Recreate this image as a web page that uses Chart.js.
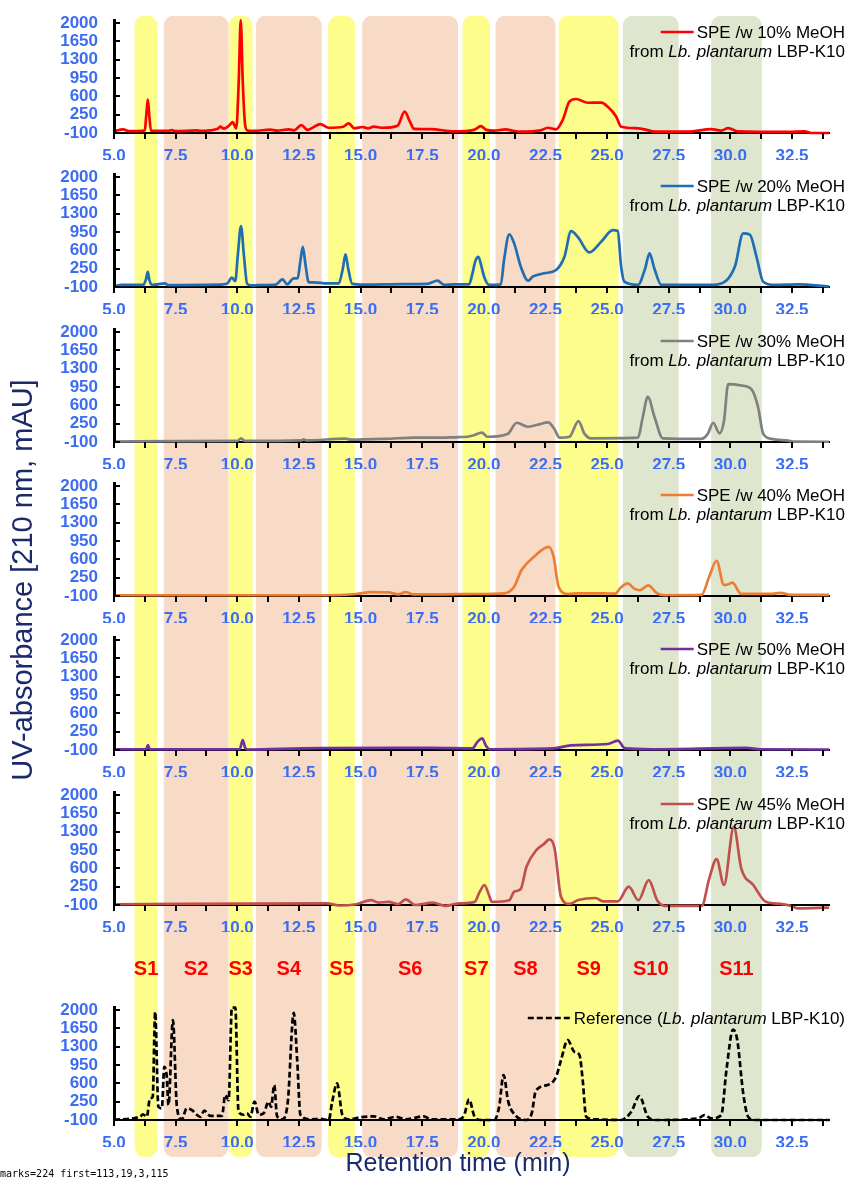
<!DOCTYPE html>
<html>
<head>
<meta charset="utf-8">
<script src="https://cdn.jsdelivr.net/npm/chart.js@4.4.0/dist/chart.umd.min.js"></script>
<style>
  body { margin: 0; background: #fff; }
  #page { position: relative; width: 848px; height: 1180px; overflow: hidden; }
  canvas { position: absolute; left: 0; }
  #bands { z-index: 0; }
  .panel { z-index: 1; }
  .mark { position: absolute; background: #000; z-index: 2; }
  #dbg { position: absolute; left: 0; top: 1168px; font: 10px monospace; z-index: 3; }
</style>
</head>
<body>
<div id="page">
  <canvas id="bands" width="848" height="1180" style="top:0;width:848px;height:1180px"></canvas>
  <div id="dbg"></div>
</div>
<script>
// fraction bands (minutes)
const bandNames  = ['S1', 'S2', 'S3', 'S4', 'S5', 'S6', 'S7', 'S8', 'S9', 'S10', 'S11'];
const bandStart  = [5.85, 7.03, 9.67, 10.77, 13.70, 15.08, 19.15, 20.49, 23.05, 25.65, 29.23];
const bandEnd    = [6.75, 9.63, 10.61, 13.41, 14.76, 18.94, 20.24, 22.89, 25.45, 27.89, 31.26];
const bandColors = ['#FDFD8C', '#F8DBC6', '#FDFD8C', '#F8DBC6', '#FDFD8C', '#F8DBC6', '#FDFD8C', '#F8DBC6', '#FDFD8C', '#DFE6CE', '#DFE6CE'];

const xTicks = [5, 6.25, 7.5, 8.75, 10, 11.25, 12.5, 13.75, 15, 16.25, 17.5, 18.75, 20, 21.25, 22.5, 23.75, 25, 26.25, 27.5, 28.75, 30, 31.25, 32.5, 33.75];
const yTicks = [-100, 250, 600, 950, 1300, 1650, 2000];

// SPE 10% MeOH
const t10 = [5.0, 5.37, 5.6, 6.15, 6.25, 6.32, 6.37, 6.42, 6.5, 7.2, 7.35, 7.5, 8.36, 8.5, 9.2, 9.31, 9.45, 9.75, 9.81, 9.96, 10.06, 10.14, 10.22, 10.32, 10.42, 10.7, 11.34, 11.6, 12.09, 12.3, 12.6, 12.85, 13.37, 13.7, 14.3, 14.52, 14.75, 15.07, 15.3, 15.54, 15.9, 16.5, 16.79, 17.0, 17.17, 17.85, 18.79, 19.6, 19.88, 20.1, 20.42, 20.89, 21.1, 21.5, 22.3, 22.59, 22.93, 23.2, 23.47, 23.74, 24.22, 24.76, 25.03, 25.37, 25.57, 26.25, 26.6, 26.92, 28.28, 29.23, 29.63, 29.91, 30.31, 32.34, 33.02, 33.29, 34.0];
const a10 = [-70, -30, -65, -60, -40, 300, 540, 300, -55, -60, -45, -65, -50, -60, -20, 20, -15, 80, 110, -10, 900, 2060, 900, 50, -55, -60, -35, -55, -30, -50, 50, -40, 70, 0, 20, 85, -10, 15, -10, 20, 0, 40, 307, 120, -20, -25, -70, -40, 30, -40, -55, -30, -50, -75, -50, 0, -30, 150, 500, 550, 478, 480, 400, 211, 20, -10, -40, -75, -75, -25, -55, -5, -70, -80, -70, -100, -100];

// SPE 20% MeOH
const t20 = [5.0, 5.3, 6.19, 6.3, 6.37, 6.43, 6.55, 7.07, 7.2, 9.31, 9.6, 9.78, 9.92, 10.02, 10.15, 10.27, 10.4, 10.6, 11.07, 11.54, 11.84, 12.02, 12.29, 12.45, 12.56, 12.66, 12.76, 12.9, 13.1, 13.65, 14.12, 14.28, 14.39, 14.5, 14.66, 15.13, 16.76, 17.71, 18.12, 18.39, 18.79, 19.4, 19.54, 19.66, 19.78, 19.9, 20.01, 20.21, 20.69, 20.82, 21.03, 21.23, 21.5, 21.8, 21.98, 22.45, 22.93, 23.27, 23.54, 23.81, 24.28, 24.76, 25.23, 25.43, 25.57, 25.7, 26.25, 26.54, 26.72, 26.92, 27.2, 29.09, 29.5, 30.18, 30.52, 30.79, 31.06, 31.33, 31.8, 32.75, 34.0];
const a20 = [-90, -60, -60, 50, 190, 40, -60, -29, -65, -56, -30, 78, 14, 500, 1064, 500, -40, -70, -62, -60, 47, -50, 66, 70, 400, 670, 350, -10, -10, -30, -30, 250, 524, 250, -40, -55, -45, -40, 20, -60, -50, -50, 162, 400, 478, 300, 100, -60, -50, 415, 906, 734, 288, 20, 97, 162, 225, 478, 969, 860, 562, 765, 988, 970, 288, 1, -60, 250, 543, 250, -60, -60, -50, 288, 925, 900, 478, 1, -60, -50, -90];

// SPE 30% MeOH
const t30 = [5.0, 7.5, 10.0, 10.16, 10.3, 12.6, 12.7, 12.8, 14.39, 14.6, 16.0, 17.2, 18.25, 18.8, 19.34, 19.6, 19.92, 20.15, 20.96, 21.34, 21.78, 22.18, 22.61, 22.86, 23.07, 23.47, 23.84, 24.08, 24.35, 26.25, 26.45, 26.65, 26.92, 27.26, 28.82, 29.09, 29.3, 29.56, 29.74, 29.91, 30.45, 30.85, 31.12, 31.33, 31.67, 32.34, 32.6, 34.0];
const a30 = [-90, -85, -80, -30, -80, -70, -50, -70, -35, -55, -40, -15, -18, -10, 1, 30, 78, 0, 53, 268, 192, 230, 276, 150, -18, 0, 301, 60, -30, -18, 383, 765, 383, -30, -40, 60, 268, 66, 300, 1007, 980, 912, 574, 60, -40, -75, -94, -95];

// SPE 40% MeOH
const t40 = [5.0, 13.63, 14.82, 15.43, 16.13, 16.53, 16.83, 17.13, 18.03, 19.63, 20.83, 21.23, 21.53, 22.03, 22.63, 22.83, 23.03, 23.43, 23.83, 24.83, 25.33, 25.53, 25.83, 26.1, 26.33, 26.67, 27.03, 27.33, 28.83, 29.14, 29.44, 29.74, 29.9, 30.08, 30.44, 31.64, 32.04, 32.44, 34.0];
const a40 = [-86, -86, -62, -24, -30, -70, -24, -70, -70, -62, -48, 78, 396, 650, 841, 650, 78, -62, -50, -50, -55, 50, 142, 40, 10, 104, -50, -86, -80, 269, 574, 110, 120, 154, -60, -60, -40, -80, -80];

// SPE 50% MeOH
const t50 = [5.0, 6.3, 6.38, 6.45, 10.1, 10.22, 10.32, 10.42, 12.63, 13.43, 16.83, 17.93, 19.53, 19.75, 19.93, 20.1, 20.23, 22.83, 23.53, 25.03, 25.43, 25.73, 26.83, 30.64, 31.24, 34.0];
const a50 = [-86, -86, -5, -86, -86, 91, -60, -90, -70, -65, -60, -60, -70, 60, 123, -30, -86, -70, -10, 15, 78, -70, -86, -60, -86, -90];

// SPE 45% MeOH
const t45 = [5.0, 13.63, 14.13, 14.82, 15.43, 15.73, 16.13, 16.53, 16.83, 17.23, 17.93, 18.43, 19.03, 19.63, 19.83, 20.03, 20.2, 20.33, 21.03, 21.23, 21.49, 21.73, 22.13, 22.43, 22.67, 22.87, 23.13, 23.47, 23.83, 24.53, 24.83, 25.43, 25.88, 26.27, 26.69, 27.03, 27.34, 28.84, 29.14, 29.44, 29.74, 30.14, 30.44, 30.93, 31.44, 32.04, 32.44, 32.74, 34.0];
const a45 = [-86, -68, -110, -86, -5, -55, -40, -86, 9, -100, -55, -115, -70, -40, 150, 282, 100, -40, -10, 154, 200, 631, 950, 1064, 1154, 980, 59, -80, -5, 34, -30, -30, 250, -10, 377, -10, -115, -115, 400, 778, 282, 1395, 600, 282, -40, -80, -115, -163, -150];

// Reference
const tRef = [5.0, 6.06, 6.17, 6.33, 6.46, 6.57, 6.67, 6.8, 6.94, 7.04, 7.14, 7.21, 7.39, 7.55, 7.75, 7.95, 8.16, 8.5, 8.66, 8.9, 9.38, 9.51, 9.65, 9.78, 9.92, 10.05, 10.26, 10.39, 10.53, 10.7, 10.87, 11.07, 11.27, 11.37, 11.5, 11.61, 11.82, 12.05, 12.29, 12.43, 12.56, 12.97, 13.37, 13.71, 13.85, 14.05, 14.26, 14.52, 15.0, 15.54, 15.95, 16.42, 16.83, 17.57, 17.85, 18.93, 19.2, 19.4, 19.61, 19.88, 20.42, 20.62, 20.8, 20.99, 21.3, 21.71, 21.94, 22.11, 22.59, 22.93, 23.13, 23.4, 23.67, 23.88, 24.01, 24.15, 24.48, 25.57, 25.98, 26.31, 26.65, 26.99, 28.69, 28.95, 29.23, 29.63, 29.84, 30.11, 30.28, 30.52, 30.72, 30.99, 34.0];
const aRef = [-95, -37, 10, -37, 314, 340, 1967, 154, 123, 918, 727, 186, 1809, 154, -87, 123, 90, -40, 78, -20, -20, 377, 280, 2050, 2050, 60, 0, 30, -40, 250, 0, 30, 250, 150, 568, -20, -87, 250, 1948, 1045, 0, -87, -80, -100, 250, 600, 0, -87, -48, -30, -87, -40, -87, -30, -87, -87, -10, 295, -20, -100, -100, 150, 759, 250, -20, -100, 20, 460, 570, 727, 1045, 1427, 1204, 1141, 664, -37, -87, -100, 59, 358, -37, -100, -70, -5, -70, -5, 855, 1631, 1427, 410, -37, -100, -100];

const panels = [
  { t: t10,  a: a10,  color: '#FF0000', label: 'SPE /w 10% MeOH', bottom: 133 },
  { t: t20,  a: a20,  color: '#1F6DB3', label: 'SPE /w 20% MeOH', bottom: 287 },
  { t: t30,  a: a30,  color: '#808080', label: 'SPE /w 30% MeOH', bottom: 442 },
  { t: t40,  a: a40,  color: '#ED7D31', label: 'SPE /w 40% MeOH', bottom: 596 },
  { t: t50,  a: a50,  color: '#7030A0', label: 'SPE /w 50% MeOH', bottom: 750 },
  { t: t45,  a: a45,  color: '#C0504D', label: 'SPE /w 45% MeOH', bottom: 905 },
  { t: tRef, a: aRef, color: '#000000', label: null, bottom: 1120, dash: [6, 3] }
];

const FONT      = 'Arial, "Liberation Sans", sans-serif';
const TICK_BLUE = '#3B6DF4';
const NAVY      = '#1B2A6B';
const H = 146, PAD_TOP = 5, X_H = 27;
Chart.defaults.font.family = FONT;

function drawParts(ctx, parts, right, baseline) {
  const fonts = parts.map(p => (p.it ? 'italic ' : '') + '17px ' + FONT);
  let w = 0;
  parts.forEach((p, i) => { ctx.font = fonts[i]; w += ctx.measureText(p.s).width; });
  let x = right - w;
  const start = x;
  ctx.textBaseline = 'alphabetic';
  ctx.textAlign = 'left';
  parts.forEach((p, i) => { ctx.font = fonts[i]; ctx.fillText(p.s, x, baseline); x += ctx.measureText(p.s).width; });
  return start;
}

const panelLegend = {
  id: 'panelLegend',
  afterDraw(chart, args, opts) {
    const ctx = chart.ctx, top = chart.chartArea.top, right = 845;
    ctx.save();
    ctx.fillStyle = '#000';
    let lineStart, lineEnd, ly;
    if (opts.label) {
      ctx.font = '17px ' + FONT;
      const w = ctx.measureText(opts.label).width;
      ctx.textAlign = 'right';
      ctx.textBaseline = 'alphabetic';
      ctx.fillText(opts.label, right, top + 19);
      lineEnd = right - w - 3; lineStart = lineEnd - 33; ly = top + 13;
      drawParts(ctx, [{ s: 'from ' }, { s: 'Lb. plantarum', it: true }, { s: ' LBP-K10' }], right, top + 38);
    } else {
      const s = drawParts(ctx, [{ s: 'Reference (' }, { s: 'Lb. plantarum', it: true }, { s: ' LBP-K10)' }], right, top + 18);
      lineEnd = s - 2; lineStart = lineEnd - 44; ly = top + 12;
    }
    ctx.strokeStyle = opts.color;
    ctx.lineWidth = 2.5;
    ctx.setLineDash(opts.dash || []);
    ctx.beginPath(); ctx.moveTo(lineStart, ly); ctx.lineTo(lineEnd, ly); ctx.stroke();
    ctx.restore();
  }
};

const page = document.getElementById('page');
const marks = [];

function addMark(left, top, w, h) {
  const d = document.createElement('div');
  d.className = 'mark';
  d.style.left = left + 'px'; d.style.top = top + 'px';
  d.style.width = w + 'px'; d.style.height = h + 'px';
  page.appendChild(d);
  marks.push(d);
}

panels.forEach(p => {
  const cv = document.createElement('canvas');
  const canvasTop = p.bottom - (H - X_H);
  cv.className = 'panel';
  cv.width = 848; cv.height = H;
  cv.style.width = '848px'; cv.style.height = H + 'px';
  cv.style.top = canvasTop + 'px';
  page.appendChild(cv);

  const chart = new Chart(cv, {
    type: 'line',
    data: {
      datasets: [{
        data: p.t.map((t, i) => ({ x: t, y: p.a[i] })),
        borderColor: p.color, borderWidth: 2.7, borderDash: p.dash || [],
        pointRadius: 0, cubicInterpolationMode: 'monotone', fill: false, clip: 8
      }]
    },
    options: {
      responsive: false, animation: false, devicePixelRatio: 1,
      layout: { padding: { top: PAD_TOP, right: 19, left: 0, bottom: 0 } },
      plugins: {
        legend: { display: false }, tooltip: { enabled: false },
        panelLegend: { label: p.label, color: p.color, dash: p.dash }
      },
      scales: {
        x: {
          type: 'linear', min: 5, max: 34,
          afterBuildTicks: s => { s.ticks = xTicks.map(v => ({ value: v })); },
          afterFit: s => { s.height = X_H; s.paddingLeft = 0; s.paddingRight = 0; },
          ticks: {
            autoSkip: false, maxRotation: 0, padding: 13, color: TICK_BLUE,
            font: { size: 17, weight: 'bold' },
            callback: v => (v % 2.5 === 0 ? v.toFixed(1) : '')
          },
          grid: { drawOnChartArea: false, drawTicks: false },
          border: { color: '#000', width: 2 }
        },
        y: {
          min: -100, max: 2080,
          afterBuildTicks: s => { s.ticks = yTicks.map(v => ({ value: v })); },
          afterFit: s => { s.width = 114; s.paddingTop = 0; s.paddingBottom = 0; },
          ticks: {
            autoSkip: false, padding: 16, color: TICK_BLUE,
            font: { size: 17, weight: 'bold' },
            callback: v => String(v)
          },
          grid: { drawOnChartArea: false, drawTicks: false },
          border: { display: false }
        }
      }
    },
    plugins: [panelLegend]
  });

  const area = chart.chartArea, xs = chart.scales.x, ys = chart.scales.y;
  const left = Math.round(area.left), bottom = Math.round(area.bottom);
  addMark(left - 1, canvasTop + Math.round(area.top), 3, bottom - Math.round(area.top) + 1);
  yTicks.forEach(v => addMark(left, canvasTop + Math.round(ys.getPixelForValue(v)) - 1, 6, 2));
  xTicks.forEach(v => addMark(Math.round(xs.getPixelForValue(v)) - 1, canvasTop + bottom, 2, 6));
});

const bandText = {
  id: 'bandText',
  afterDraw(chart) {
    const ctx = chart.ctx, x = chart.scales.x;
    ctx.save();
    ctx.fillStyle = '#FF0000';
    ctx.font = 'bold 20px ' + FONT;
    ctx.textAlign = 'center';
    ctx.textBaseline = 'middle';
    bandNames.forEach((n, i) => ctx.fillText(n, x.getPixelForValue((bandStart[i] + bandEnd[i]) / 2), 969));
    ctx.fillStyle = NAVY;
    ctx.font = '25px ' + FONT;
    ctx.fillText('Retention time (min)', 458, 1164);
    ctx.translate(24, 580);
    ctx.rotate(-Math.PI / 2);
    ctx.font = '29px ' + FONT;
    ctx.fillText('UV-absorbance [210 nm, mAU]', 0, 0);
    ctx.restore();
  }
};

new Chart(document.getElementById('bands'), {
  type: 'bar',
  data: {
    labels: ['band'],
    datasets: bandNames.map((n, i) => ({
      label: n,
      data: [[bandStart[i], bandEnd[i]]],
      backgroundColor: bandColors[i],
      borderRadius: 10, borderSkipped: false, borderWidth: 0,
      grouped: false, barPercentage: 1, categoryPercentage: 1
    }))
  },
  options: {
    indexAxis: 'y', responsive: false, animation: false, devicePixelRatio: 1,
    layout: { padding: { left: 114, right: 19, top: 16, bottom: 23 } },
    plugins: { legend: { display: false }, tooltip: { enabled: false } },
    scales: {
      x: { type: 'linear', min: 5, max: 34, display: false },
      y: { display: false }
    }
  },
  plugins: [bandText]
});

const r = marks[0].getBoundingClientRect();
document.getElementById('dbg').textContent = 'marks=' + marks.length + ' first=' + [r.left, r.top, r.width, r.height].map(Math.round).join(',');
</script>
</body>
</html>
